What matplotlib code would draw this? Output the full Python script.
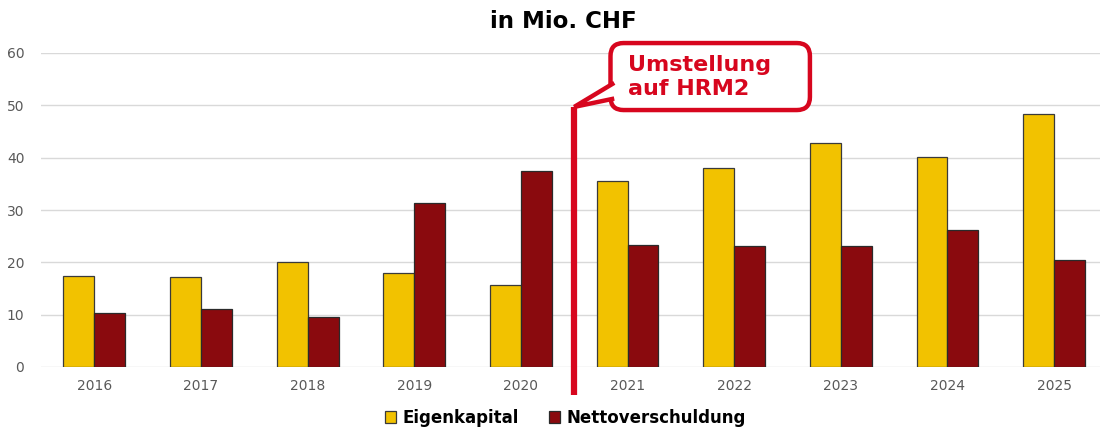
import matplotlib
matplotlib.use('Agg')
import matplotlib.pyplot as plt
from matplotlib.patches import FancyBboxPatch, Polygon
import numpy as np

years = ['2016', '2017', '2018', '2019', '2020', '2021', '2022', '2023', '2024', '2025']
eigenkapital = [17.4, 17.2, 20.0, 18.0, 15.7, 35.5, 38.0, 42.8, 40.1, 48.3]
nettoverschuldung = [10.3, 11.1, 9.5, 31.3, 37.5, 23.4, 23.2, 23.1, 26.2, 20.4]

YELLOW = '#F2C200'
DARKRED = '#8A0A0E'
RED = '#D7061E'
GRID = '#D9D9D9'
TICK = '#595959'

W, H = 1100, 429
fig = plt.figure(figsize=(W / 100, H / 100), dpi=100)
ax_l, ax_r, ax_b, ax_t = 41, 1100, 62, 376  # pixel extents of the plot area
ax = fig.add_axes([ax_l / W, ax_b / H, (ax_r - ax_l) / W, (ax_t - ax_b) / H])

x = np.arange(len(years))
w = 0.29
ax.bar(x - w / 2, eigenkapital, w, color=YELLOW, edgecolor='#3a3a3a', linewidth=0.9,
       label='Eigenkapital', zorder=3)
ax.bar(x + w / 2, nettoverschuldung, w, color=DARKRED, edgecolor='#2a2a2a', linewidth=0.9,
       label='Nettoverschuldung', zorder=3)

xmin, xmax = -0.5, 9.43
ax.set_xlim(xmin, xmax)
ax.set_ylim(0, 60)
ax.set_yticks(range(0, 61, 10))
ax.set_xticks(x)
ax.set_xticklabels(years)
ax.yaxis.grid(True, color=GRID, linewidth=1, zorder=0)
ax.set_axisbelow(True)
for s in ax.spines.values():
    s.set_visible(False)
ax.tick_params(axis='both', length=0, colors=TICK, labelsize=10)
ax.tick_params(axis='x', pad=9)
ax.tick_params(axis='y', pad=12)

# title
fig.text(563 / W, 1 - 22 / H, 'in Mio. CHF', ha='center', va='center',
         fontsize=16.5, fontweight='bold', color='black')

# vertical marker between 2020 and 2021
ax.plot([4.5, 4.5], [-5.4, 49.7], color=RED, linewidth=4.5, clip_on=False,
        solid_capstyle='butt', zorder=5)

# callout bubble
px_x = (ax_r - ax_l) / (xmax - xmin)   # pixels per x unit
px_y = (ax_t - ax_b) / 60.0            # pixels per y unit
bx0, bx1 = 4.84, 6.71
by0, by1 = 49.1, 61.9
bubble = FancyBboxPatch((bx0, by0), bx1 - bx0, by1 - by0,
                        boxstyle='round,pad=0,rounding_size=%f' % (13 / px_x),
                        mutation_aspect=px_x / px_y,
                        facecolor='white', edgecolor=RED, linewidth=3.2,
                        clip_on=False, zorder=6)
ax.add_patch(bubble)
tail = Polygon([(bx0 + 0.035, 54.3), (4.5, 49.7), (bx0 + 0.035, 51.3)], closed=False,
               facecolor='white', edgecolor=RED, linewidth=3.2, clip_on=False,
               joinstyle='miter', zorder=7)
ax.add_patch(tail)
ax.text(5.0, 55.5, 'Umstellung\nauf HRM2', ha='left', va='center', fontsize=16,
        fontweight='bold', color=RED, linespacing=1.25, zorder=8, clip_on=False)

# legend
fig.legend(loc='center', bbox_to_anchor=(565 / W, 1 - 418 / H), ncol=2, frameon=False,
           prop={'weight': 'bold', 'size': 12}, handlelength=0.7, handleheight=0.7,
           handletextpad=0.35, columnspacing=1.8)

fig.savefig('out.png', dpi=100)
